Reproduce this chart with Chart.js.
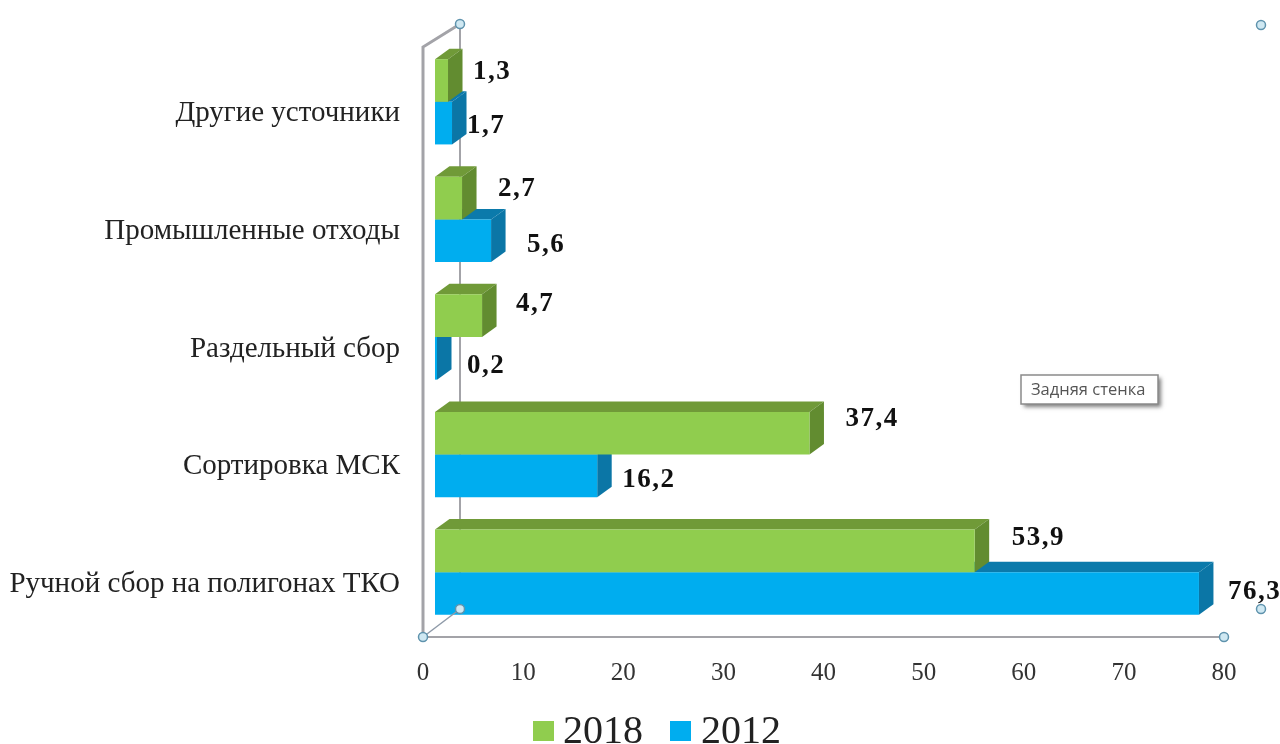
<!DOCTYPE html>
<html lang="ru">
<head>
<meta charset="utf-8">
<title>Источники вторичного сырья</title>
<script src="https://cdn.jsdelivr.net/npm/chart.js@4"></script>
<style>
    html, body { margin: 0; padding: 0; background: #fff; overflow: hidden; }
    #wrap { width: 1280px; height: 744px; position: relative; }
</style>
</head>
<body>
<div id="wrap"><canvas id="chart"></canvas></div>
<script>
const categories = ['Другие усточники', 'Промышленные отходы', 'Раздельный сбор', 'Сортировка МСК', 'Ручной сбор на полигонах ТКО'];
const values2018 = [1.3, 2.7, 4.7, 37.4, 53.9];
const values2012 = [1.7, 5.6, 0.2, 16.2, 76.3];
const xTickStep = 10;
const xMax = 80;

// Hand-placed value labels: left edge relative to the bar end, middle relative to the bar centre
const labelNudge2018 = [[25, -8], [36, -9], [34, -12], [36, -14], [37, -13]];
const labelNudge2012 = [[15, 3], [36, 4], [30, 8], [25, 4], [29, -1]];

const SERIF = '"Liberation Serif", serif';
const BAR_SHIFT = 12;   // front faces sit this far into the floor
const DEPTH_X = 14.5;
const DEPTH_Y = -10.5;

function fillQuad(ctx, color, pts) {
    ctx.fillStyle = color;
    ctx.beginPath();
    pts.forEach((p, i) => i ? ctx.lineTo(p[0], p[1]) : ctx.moveTo(p[0], p[1]));
    ctx.closePath();
    ctx.fill();
}

function handle(ctx, x, y) {
    ctx.beginPath();
    ctx.arc(x, y, 4.5, 0, Math.PI * 2);
    ctx.fillStyle = '#cfe8f2';
    ctx.fill();
    ctx.lineWidth = 1.5;
    ctx.strokeStyle = '#5f93ad';
    ctx.stroke();
}

// Wall outline behind the bars, floor edge and selection handles above them
const framePlugin = {
    id: 'frame',
    beforeDatasetsDraw(chart) {
        const ctx = chart.ctx;
        const left = chart.chartArea.left;
        const right = chart.chartArea.right;
        const floor = chart.chartArea.bottom + 6;
        ctx.save();
        ctx.strokeStyle = '#a3a3a8';
        ctx.lineWidth = 2;
        ctx.beginPath();
        ctx.moveTo(460, 24);
        ctx.lineTo(460, 609);
        ctx.stroke();
        ctx.lineWidth = 3;
        ctx.beginPath();
        ctx.moveTo(460, 24);
        ctx.lineTo(left, 47);
        ctx.lineTo(left, floor);
        ctx.stroke();
        ctx.lineWidth = 2;
        ctx.beginPath();
        ctx.moveTo(left, floor);
        ctx.lineTo(right, floor);
        ctx.stroke();
        ctx.restore();
    },
    afterDatasetsDraw(chart) {
        const ctx = chart.ctx;
        const left = chart.chartArea.left;
        const right = chart.chartArea.right;
        const floor = chart.chartArea.bottom + 6;
        ctx.save();
        ctx.strokeStyle = '#8f9aa8';
        ctx.lineWidth = 1.5;
        ctx.beginPath();
        ctx.moveTo(left, floor);
        ctx.lineTo(460, 609);
        ctx.stroke();
        handle(ctx, 460, 24);
        handle(ctx, 1261, 25);
        handle(ctx, 460, 609);
        handle(ctx, left, floor);
        handle(ctx, right, floor);
        handle(ctx, 1261, 609);
        ctx.restore();
    }
};

// Top and side faces of each bar, then the library draws the front face shifted on the floor
const prismPlugin = {
    id: 'prism',
    beforeDatasetDraw(chart, args) {
        const ctx = chart.ctx;
        const ds = chart.data.datasets[args.index];
        ctx.save();
        ctx.translate(BAR_SHIFT, 0);
        args.meta.data.forEach(bar => {
            const top = bar.y - bar.height / 2;
            const bottom = bar.y + bar.height / 2;
            fillQuad(ctx, ds.topColor, [
                [bar.base, top], [bar.base + DEPTH_X, top + DEPTH_Y],
                [bar.x + DEPTH_X, top + DEPTH_Y], [bar.x, top]
            ]);
            fillQuad(ctx, ds.sideColor, [
                [bar.x, top], [bar.x + DEPTH_X, top + DEPTH_Y],
                [bar.x + DEPTH_X, bottom + DEPTH_Y], [bar.x, bottom]
            ]);
        });
    },
    afterDatasetDraw(chart) {
        chart.ctx.restore();
    }
};

// Value labels, legend and the floating caption
const overlayPlugin = {
    id: 'overlay',
    afterDatasetsDraw(chart) {
        const ctx = chart.ctx;
        ctx.save();
        ctx.textAlign = 'left';
        ctx.textBaseline = 'middle';
        ctx.font = 'bold 27px ' + SERIF;
        ctx.letterSpacing = '1.5px';
        ctx.fillStyle = '#111';
        chart.data.datasets.forEach((ds, d) => {
            chart.getDatasetMeta(d).data.forEach((bar, i) => {
                const nudge = ds.labelNudge[i];
                const text = ds.data[i].toFixed(1).replace('.', ',');
                ctx.fillText(text, bar.x + BAR_SHIFT + nudge[0], bar.y + nudge[1]);
            });
        });
        ctx.letterSpacing = '0px';

        // legend
        const legendSpots = [[533, 563], [670, 701]];
        ctx.font = '40px ' + SERIF;
        chart.data.datasets.forEach((ds, d) => {
            ctx.fillStyle = ds.backgroundColor;
            ctx.fillRect(legendSpots[d][0], 721, 21, 20);
            ctx.fillStyle = '#222';
            ctx.fillText(ds.label, legendSpots[d][1], 732);
        });

        // caption box
        ctx.shadowColor = 'rgba(0,0,0,0.5)';
        ctx.shadowBlur = 4;
        ctx.shadowOffsetX = 3;
        ctx.shadowOffsetY = 3;
        ctx.fillStyle = '#fff';
        ctx.fillRect(1021, 375, 137, 29);
        ctx.shadowColor = 'transparent';
        ctx.strokeStyle = '#8a8a8a';
        ctx.lineWidth = 1.5;
        ctx.strokeRect(1021, 375, 137, 29);
        ctx.font = '16.5px "Open Sans", sans-serif';
        ctx.fillStyle = '#555';
        ctx.fillText('Задняя стенка', 1031, 390);
        ctx.restore();
    }
};

new Chart(document.getElementById('chart'), {
    type: 'bar',
    data: {
        labels: categories,
        datasets: [{
            label: '2018',
            data: values2018,
            backgroundColor: '#90cd4e',
            topColor: '#709a38',
            sideColor: '#628c30',
            labelNudge: labelNudge2018
        }, {
            label: '2012',
            data: values2012,
            backgroundColor: '#00adef',
            topColor: '#0b7aab',
            sideColor: '#0b76a6',
            labelNudge: labelNudge2012
        }]
    },
    options: {
        indexAxis: 'y',
        responsive: true,
        maintainAspectRatio: false,
        animation: false,
        layout: { padding: { top: 43, right: 56, bottom: 0, left: 0 } },
        datasets: { bar: { categoryPercentage: 0.725, barPercentage: 1, clip: false } },
        plugins: {
            legend: { display: false },
            tooltip: { enabled: false }
        },
        scales: {
            x: {
                min: 0,
                max: xMax,
                afterFit: scale => { scale.height = 113; },
                grid: { display: false },
                border: { display: false },
                ticks: {
                    stepSize: xTickStep,
                    maxRotation: 0,
                    padding: 19,
                    color: '#333',
                    font: { family: SERIF, size: 25 }
                }
            },
            y: {
                afterFit: scale => { scale.width = 423; },
                grid: { display: false, drawTicks: false },
                border: { display: false },
                ticks: {
                    padding: 23,
                    labelOffset: 12,
                    autoSkip: false,
                    color: '#222',
                    font: { family: SERIF, size: 29 }
                }
            }
        }
    },
    plugins: [framePlugin, prismPlugin, overlayPlugin]
});
</script>
</body>
</html>
